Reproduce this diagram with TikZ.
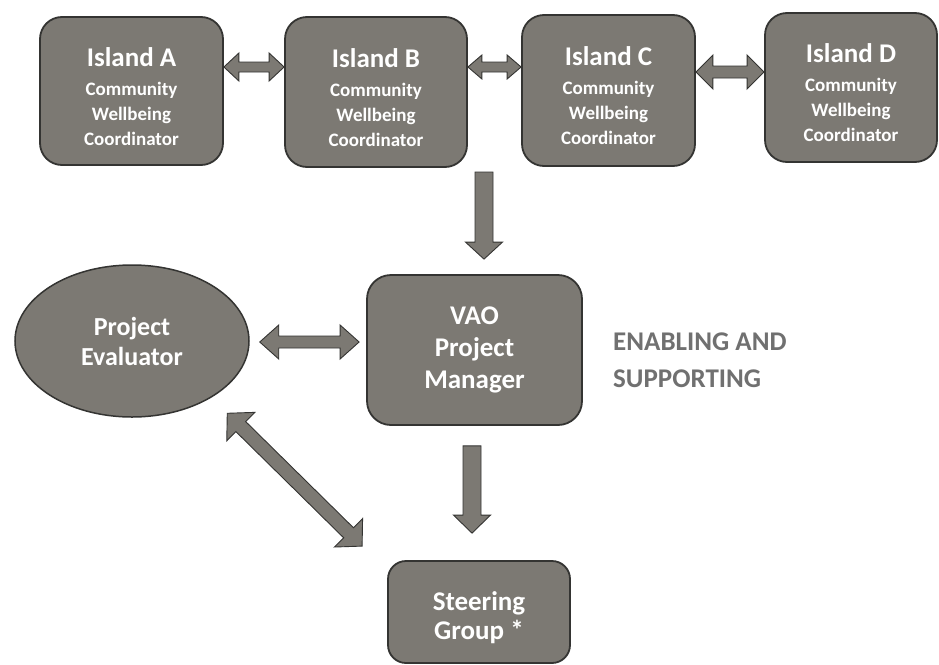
\documentclass[tikz,border=0pt]{standalone}
\usepackage{fontspec}
\setmainfont{Carlito}
\usetikzlibrary{calc,shapes.geometric}
\definecolor{boxgray}{RGB}{124,121,115}
\definecolor{edgegray}{RGB}{52,52,50}
\definecolor{labelgray}{RGB}{112,112,112}
\tikzset{
  boxbase/.style={rectangle, fill=boxgray, draw=edgegray, line width=1.8pt, text=white, align=center, inner sep=0pt},
  island/.style={boxbase, rounded corners=22pt, minimum height=148pt,
    font=\bfseries\fontsize{19}{25}\selectfont},
  bigbox/.style={boxbase, rounded corners=24pt, font=\bfseries\fontsize{27}{32}\selectfont},
  evalnode/.style={ellipse, fill=boxgray, draw=edgegray, line width=1.5pt, text=white, align=center,
    inner sep=0pt, minimum width=234pt, minimum height=152pt, font=\bfseries\fontsize{26}{30}\selectfont},
  blockarr/.style={fill=boxgray, draw=edgegray, line width=0.9pt, line join=miter},
  sidelabel/.style={anchor=west, inner sep=0pt, text=labelgray, align=left,
    font=\bfseries\fontsize{27}{37}\selectfont}
}
\newcommand\topstrut{\rule{0pt}{30pt}}
\newcommand\getdir[2]{%
  \path let \p1=(#1),\p2=(#2) in \pgfextra{%
    \pgfmathsetmacro\myang{atan2(\y2-\y1,\x2-\x1)}%
    \pgfmathsetmacro\mylen{veclen(\x2-\x1,\y2-\y1)}%
    \xdef\gang{\myang}\xdef\glen{\mylen}};}
% double-headed block arrow: from, to, shaft half width, head half width, head length
\newcommand\dblarrow[5]{%
  \getdir{#1}{#2}%
  \begin{scope}[shift={(#1)},rotate=\gang]
    \draw[blockarr] (0,0) -- (#5,#4) -- (#5,#3) -- ({\glen-#5},#3) -- ({\glen-#5},#4) -- (\glen,0)
      -- ({\glen-#5},-#4) -- ({\glen-#5},-#3) -- (#5,-#3) -- (#5,-#4) -- cycle;
  \end{scope}}
% single-headed block arrow
\newcommand\sglarrow[5]{%
  \getdir{#1}{#2}%
  \begin{scope}[shift={(#1)},rotate=\gang]
    \draw[blockarr] (0,#3) -- ({\glen-#5},#3) -- ({\glen-#5},#4) -- (\glen,0)
      -- ({\glen-#5},-#4) -- ({\glen-#5},-#3) -- (0,-#3) -- cycle;
  \end{scope}}
\begin{document}
\begin{tikzpicture}[x=1pt,y=-1pt]
\fill[white] (0,0) rectangle (939,664);
\useasboundingbox (0,0) rectangle (939,664);

\node[island, minimum width=183pt] (A) at (131.5,91)
  {{\fontsize{27}{27}\selectfont\topstrut Island A}\\[4pt]Community\\Wellbeing\\Coordinator};
\node[island, minimum width=182pt, minimum height=150pt] (B) at (376,92)
  {{\fontsize{27}{27}\selectfont\topstrut Island B}\\[4pt]Community\\Wellbeing\\Coordinator};
\node[island, minimum width=173pt, minimum height=151pt] (C) at (608.5,90.5)
  {{\fontsize{27}{27}\selectfont\topstrut Island C}\\[4pt]Community\\Wellbeing\\Coordinator};
\node[island, minimum width=172pt, minimum height=149pt] (D) at (851,87.5)
  {{\fontsize{27}{27}\selectfont\topstrut Island D}\\[4pt]Community\\Wellbeing\\Coordinator};

\node[bigbox, minimum width=215pt, minimum height=150pt] (V) at (474.5,350)
  {VAO\\Project\\Manager};
\node[evalnode] (E) at (132,341) {Project\\Evaluator};
\node[bigbox, rounded corners=18pt, minimum width=182pt, minimum height=102pt,
  font=\bfseries\fontsize{27}{29}\selectfont] (S) at (479,612) {\rule{0pt}{31pt}Steering\\Group *};

\node[sidelabel] (L) at (613,360) {ENABLING AND\\SUPPORTING};

% connector end points
\coordinate (ab1) at ([yshift=24pt]A.east);
\coordinate (ab2) at ([yshift=25pt]B.west);
\coordinate (bc1) at ([yshift=25pt]B.east);
\coordinate (bc2) at ([yshift=23.5pt]C.west);
\coordinate (cd1) at ([yshift=18.5pt]C.east);
\coordinate (cd2) at ([yshift=15.5pt]D.west);
\coordinate (m1) at (484,172);
\coordinate (m2) at ([xshift=9.5pt,yshift=15pt]V.north);
\coordinate (ev1) at ([xshift=10pt,yshift=-1pt]E.east);
\coordinate (ev2) at ([xshift=-7pt,yshift=8pt]V.west);
\coordinate (vs1) at ([xshift=-2.5pt,yshift=-20pt]V.south);
\coordinate (vs2) at ([xshift=-7pt,yshift=27pt]S.north);
\coordinate (d1) at ([xshift=12pt,yshift=-18pt]E.south east);
\coordinate (d2) at ([xshift=-25pt,yshift=14pt]S.north west);

\dblarrow{ab1}{ab2}{5}{14}{15}
\dblarrow{bc1}{bc2}{5}{12}{14}
\dblarrow{cd1}{cd2}{6}{17}{17}
\sglarrow{m1}{m2}{9}{18.5}{17}
\dblarrow{ev1}{ev2}{6}{17}{19}
\sglarrow{vs1}{vs2}{9}{18.5}{18}
\dblarrow{d1}{d2}{7}{20}{19}
\end{tikzpicture}
\end{document}
